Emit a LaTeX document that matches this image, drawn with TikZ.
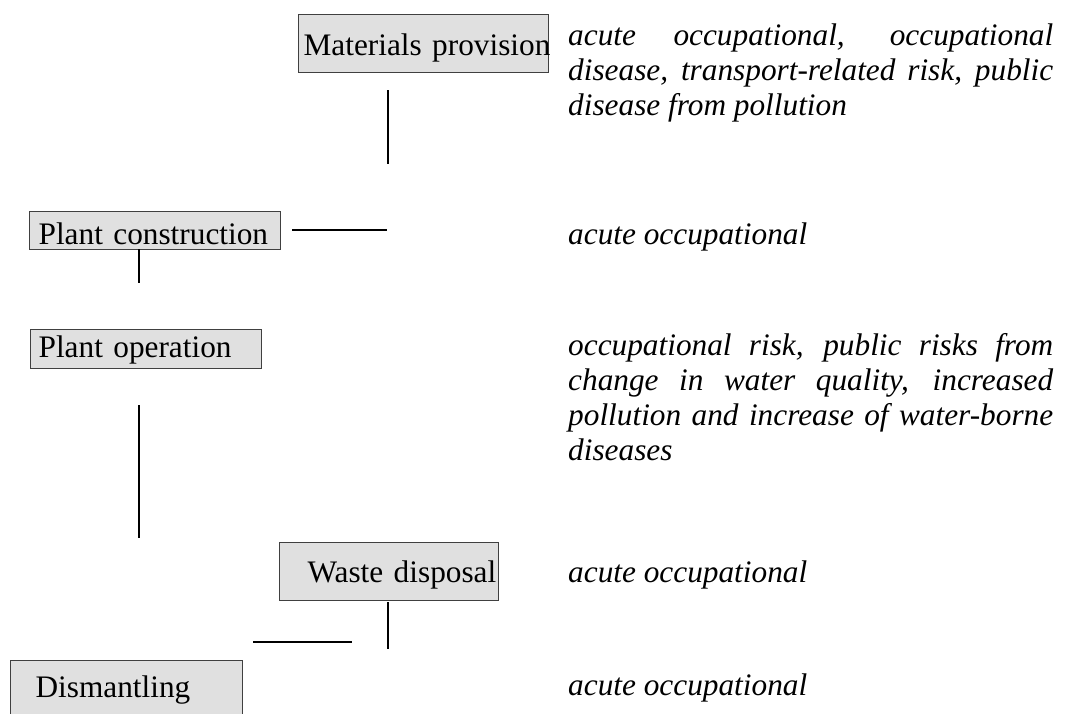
\documentclass[tikz,border=0pt]{standalone}
\usepackage{fontspec}
\setmainfont{Liberation Serif}
\definecolor{stagegray}{HTML}{E0E0E0}
\definecolor{stageline}{HTML}{404040}
\newcommand{\stagefont}{\fontsize{31.3}{35}\selectfont\hyphenpenalty=10000}
\newcommand{\riskfont}{\fontsize{31.3}{35}\selectfont\itshape\hyphenpenalty=10000}

\tikzset{
  stage/.style={draw=stageline, fill=stagegray, line width=1.2pt,
    anchor=north west, align=left, inner ysep=0pt, font=\stagefont},
  risk/.style={anchor=base west, inner sep=0pt, text width=485pt,
    align=justify, font=\riskfont},
  stub/.style={line width=1.3pt}
}

\begin{document}
\begin{tikzpicture}[x=1pt,y=-1pt]
\useasboundingbox (0,0) rectangle (1073,713);

% stages
\node[stage, minimum width=250pt, minimum height=58pt, inner xsep=5pt,
  text width=240pt, text height=26pt, text depth=2pt] (mat) at (298,14) {Materials~provision};
\node[stage, minimum width=251pt, minimum height=38pt, inner xsep=9pt,
  text width=233pt, text height=28pt, text depth=0pt] (con) at (29,211) {Plant~construction};
\node[stage, minimum width=231pt, minimum height=39pt, inner xsep=8pt,
  text width=215pt, text height=21pt, text depth=4pt] (ope) at (30,329) {Plant~operation};
\node[stage, minimum width=219pt, minimum height=58pt, inner xsep=28pt,
  text width=163pt, text height=24pt, text depth=2pt] (was) at (279,542) {Waste~disposal};
\node[stage, minimum width=232pt, minimum height=72pt, inner xsep=25pt,
  text width=182pt, text height=22pt, text depth=20pt] (dis) at (10,660) {Dismantling};

% risks
\node[risk] (matrisk) at (568,45) {acute occupational, occupational\linebreak
  disease, transport-related risk, public\linebreak disease from pollution};
\node[risk] (conrisk) at (568,244) {acute occupational};
\node[risk] (operisk) at (568,355) {occupational risk, public risks from\linebreak
  change in water quality, increased\linebreak
  pollution and increase of water-borne\linebreak diseases};
\node[risk] (wasrisk) at (568,582) {acute occupational};
\node[risk] (disrisk) at (568,695) {acute occupational};

% stubs
\coordinate (mat-a) at (388,90);
\coordinate (mat-b) at (388,164);
\coordinate (con-a) at (292,230);
\coordinate (con-b) at (387,230);
\coordinate (con-c) at (139,249);
\coordinate (con-d) at (139,283);
\coordinate (ope-a) at (139,405);
\coordinate (ope-b) at (139,538);
\coordinate (was-a) at (388,602);
\coordinate (was-b) at (388,649);
\coordinate (dis-a) at (253,642);
\coordinate (dis-b) at (352,642);

\draw[stub] (mat-a) -- (mat-b);
\draw[stub] (con-a) -- (con-b);
\draw[stub] (con-c) -- (con-d);
\draw[stub] (ope-a) -- (ope-b);
\draw[stub] (was-a) -- (was-b);
\draw[stub] (dis-a) -- (dis-b);
\end{tikzpicture}
\end{document}
